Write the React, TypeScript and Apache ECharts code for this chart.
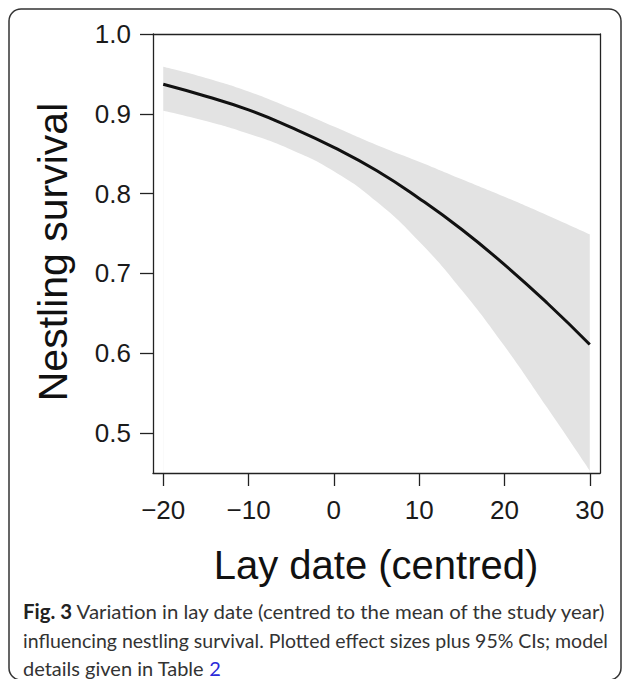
import React, { useEffect, useRef } from 'react';
import * as echarts from 'echarts';

// Data
const layDate = [-20, -15, -10, -5, 0, 5, 10, 15, 20, 25, 30];
const survival = [0.937, 0.922, 0.905, 0.883, 0.858, 0.829, 0.794, 0.755, 0.711, 0.663, 0.611];
const ciUpper = [0.959, 0.945, 0.928, 0.907, 0.884, 0.861, 0.840, 0.818, 0.796, 0.773, 0.749];
const ciLower = [0.904, 0.891, 0.875, 0.855, 0.828, 0.790, 0.740, 0.679, 0.609, 0.532, 0.453];
const xTicks = [-20, -10, 0, 10, 20, 30];
const yTicks = [0.5, 0.6, 0.7, 0.8, 0.9, 1.0];
const xTitle = 'Lay date (centred)';
const yTitle = 'Nestling survival';
const captionLine1 = '{b|Fig. 3} Variation in lay date (centred to the mean of the study year)';
const captionLine2 = 'influencing nestling survival. Plotted effect sizes plus 95% CIs; model';
const captionLine3 = 'details given in Table {l|2}';

const AX_FONT = '"Liberation Sans", Arial, Helvetica, sans-serif';
const CAP_FONT = 'Lato, "Open Sans", sans-serif';
const CAP_SIZE = 20;
const FRAME = { color: '#222', width: 1.3 };

export default function App() {
  const ref = useRef<HTMLDivElement>(null);
  useEffect(() => {
    if (!ref.current) return;
    const chart = echarts.init(ref.current, undefined, { renderer: 'svg' });
    const pairs = (ys: number[]) => layDate.map((x, i) => [x, ys[i]]);
    const capText = (text: string, y: number, scaleX: number) => ({
      type: 'text',
      x: 23,
      y,
      scaleX,
      style: {
        text,
        fontFamily: CAP_FONT,
        fontSize: CAP_SIZE,
        fill: '#333',
        align: 'left',
        textAlign: 'left',
        verticalAlign: 'middle',
        textVerticalAlign: 'middle',
        rich: {
          b: { fontFamily: CAP_FONT, fontSize: CAP_SIZE, fontWeight: 'bold', fill: '#222', color: '#222' },
          l: { fontFamily: CAP_FONT, fontSize: CAP_SIZE, fill: '#2b2bd9', color: '#2b2bd9' },
        },
      },
    });
    const frameAxis = (position: string, min: number, max: number) => ({
      type: 'value',
      position,
      min,
      max,
      splitLine: { show: false },
      axisLine: { show: true, onZero: false, lineStyle: FRAME },
      axisTick: { show: false },
      axisLabel: { show: false },
    });
    chart.setOption({
      animation: false,
      backgroundColor: '#fff',
      grid: { left: 153, right: 27, top: 34, bottom: 206, show: false },
      xAxis: [
        {
          type: 'value',
          position: 'bottom',
          min: -21.2,
          max: 31.2,
          z: 5,
          splitLine: { show: false },
          axisLine: { show: true, onZero: false, lineStyle: FRAME },
          axisTick: {
            show: true,
            inside: false,
            length: 13,
            customValues: xTicks,
            lineStyle: FRAME,
          },
          axisLabel: {
            customValues: xTicks,
            margin: 24,
            fontFamily: AX_FONT,
            fontSize: 26,
            color: '#1a1a1a',
            formatter: (v: number) => (v < 0 ? '\u2212' + Math.abs(v) : String(v)),
          },
        },
        { ...frameAxis('top', -21.2, 31.2), z: 5 },
      ],
      yAxis: [
        {
          type: 'value',
          position: 'left',
          min: 0.45,
          max: 1.0,
          z: 5,
          splitLine: { show: false },
          axisLine: { show: true, onZero: false, lineStyle: FRAME },
          axisTick: {
            show: true,
            inside: false,
            length: 13,
            customValues: yTicks,
            lineStyle: FRAME,
          },
          axisLabel: {
            customValues: yTicks,
            margin: 22,
            fontFamily: AX_FONT,
            fontSize: 26,
            color: '#1a1a1a',
            formatter: (v: number) => v.toFixed(1),
          },
        },
        { ...frameAxis('right', 0.45, 1.0), z: 5 },
      ],
      series: [
        {
          name: 'CI upper',
          type: 'line',
          xAxisIndex: 0,
          yAxisIndex: 0,
          data: pairs(ciUpper),
          smooth: true,
          symbol: 'none',
          silent: true,
          z: 2,
          lineStyle: { width: 0, opacity: 0 },
          areaStyle: { color: '#e3e3e3', opacity: 1, origin: 'start' },
        },
        {
          name: 'CI lower',
          type: 'line',
          xAxisIndex: 0,
          yAxisIndex: 0,
          data: pairs(ciLower),
          smooth: true,
          symbol: 'none',
          silent: true,
          z: 2,
          lineStyle: { width: 0, opacity: 0 },
          areaStyle: { color: '#ffffff', opacity: 1, origin: 'start' },
        },
        {
          name: 'Survival',
          type: 'line',
          xAxisIndex: 0,
          yAxisIndex: 0,
          data: pairs(survival),
          smooth: true,
          symbol: 'none',
          z: 4,
          lineStyle: { color: '#111', width: 3 },
        },
      ],
      graphic: [
        {
          type: 'rect',
          shape: { x: 9, y: 9, width: 612, height: 671, r: 12 },
          style: { fill: 'none', stroke: '#333', lineWidth: 1.5 },
          silent: true,
        },
        {
          type: 'text',
          x: 53,
          y: 252,
          rotation: Math.PI / 2,
          style: {
            text: yTitle,
            fontFamily: AX_FONT,
            fontSize: 41,
            fill: '#111',
            align: 'center',
            textAlign: 'center',
            verticalAlign: 'middle',
            textVerticalAlign: 'middle',
          },
        },
        {
          type: 'text',
          x: 376,
          y: 565,
          style: {
            text: xTitle,
            fontFamily: AX_FONT,
            fontSize: 40,
            fill: '#111',
            align: 'center',
            textAlign: 'center',
            verticalAlign: 'middle',
            textVerticalAlign: 'middle',
          },
        },
        capText(captionLine1, 611, 1.02),
        capText(captionLine2, 640, 0.975),
        capText(captionLine3, 668, 1.0),
      ],
    });
    return () => chart.dispose();
  }, []);
  return (
    <div
      ref={ref}
      style={{ position: 'fixed', left: 0, top: 0, width: 627, height: 679, background: '#fff' }}
    />
  );
}
